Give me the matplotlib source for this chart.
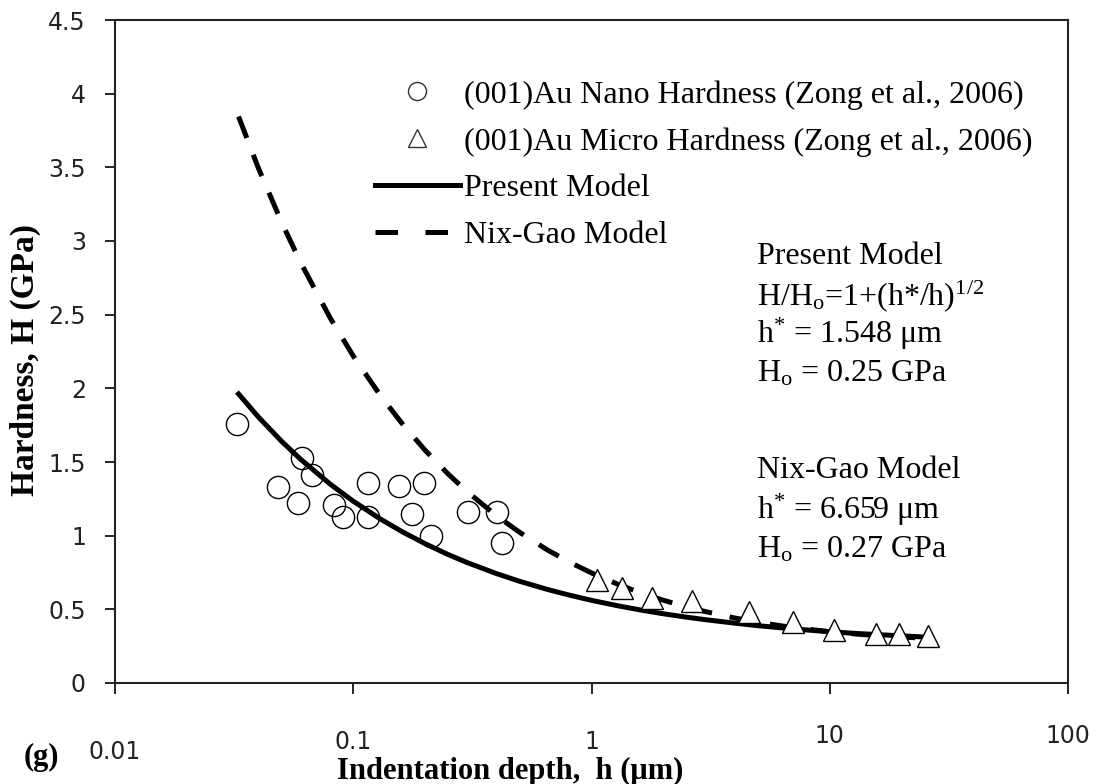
import matplotlib
matplotlib.use("Agg")
import matplotlib.pyplot as plt
from matplotlib.lines import Line2D
from matplotlib.transforms import blended_transform_factory

plt.rcParams['mathtext.fontset'] = 'custom'
plt.rcParams['mathtext.rm'] = 'Liberation Serif'
plt.rcParams['mathtext.it'] = 'Liberation Serif:italic'

# ---- data ----
nano_h = [0.0326, 0.0484, 0.0587, 0.0607, 0.0673, 0.0833, 0.0906, 0.1154, 0.1154,
          0.1555, 0.177, 0.198, 0.213, 0.303, 0.403, 0.42]
nano_H = [1.76, 1.33, 1.22, 1.53, 1.41, 1.21, 1.13, 1.36, 1.13,
          1.34, 1.15, 1.36, 1.00, 1.16, 1.16, 0.95]

micro_h = [1.05, 1.34, 1.79, 2.64, 4.6, 6.99, 10.4, 15.6, 19.6, 25.8]
micro_H = [0.70, 0.645, 0.575, 0.555, 0.48, 0.415, 0.36, 0.33, 0.33, 0.32]

model_h = [0.033, 0.04, 0.05, 0.06, 0.08, 0.1, 0.13, 0.16, 0.2, 0.25, 0.3, 0.4, 0.5,
           0.65, 0.8, 1.0, 1.3, 1.6, 2, 2.5, 3, 4, 5, 6.5, 8, 10, 13, 16, 20, 25]
present_H = [1.962, 1.805, 1.641, 1.520, 1.350, 1.234, 1.113, 1.028, 0.946, 0.872,
             0.818, 0.742, 0.690, 0.636, 0.598, 0.561, 0.523, 0.496, 0.470, 0.447,
             0.430, 0.406, 0.389, 0.372, 0.360, 0.348, 0.336, 0.328, 0.320, 0.312]
nixgao_H = [3.845, 3.494, 3.128, 2.857, 2.478, 2.220, 1.951, 1.763, 1.581, 1.419,
            1.300, 1.134, 1.022, 0.905, 0.824, 0.747, 0.668, 0.613, 0.562, 0.517,
            0.485, 0.441, 0.412, 0.384, 0.366, 0.348, 0.332, 0.321, 0.312, 0.304]

xticks = [0.01, 0.1, 1, 10, 100]
xtick_labels = ['0.01', '0.1', '1', '10', '100']
yticks = [0, 0.5, 1, 1.5, 2, 2.5, 3, 3.5, 4, 4.5]
ytick_labels = ['0', '0.5', '1', '1.5', '2', '2.5', '3', '3.5', '4', '4.5']

legend_labels = ['(001)Au Nano Hardness (Zong et al., 2006)',
                 '(001)Au Micro Hardness (Zong et al., 2006)',
                 'Present Model', 'Nix-Gao Model']

W, H = 1100, 784
fig = plt.figure(figsize=(W / 100, H / 100), dpi=100)
ax = fig.add_axes([115 / W, 1 - 683 / H, (1068 - 115) / W, (683 - 20) / H])

serif = 'Liberation Serif'
tick_font = 'DejaVu Sans'

ax.plot(model_h, nixgao_H, color='black', lw=3.6, linestyle=(0, (4.6, 3.6)),
        solid_capstyle='butt', dash_capstyle='butt', zorder=2)
ax.plot(model_h, present_H, color='black', lw=3.6, zorder=2)
ax.plot(nano_h, nano_H, linestyle='none', marker='o', markersize=16,
        markerfacecolor='none', markeredgecolor='black', markeredgewidth=1.0, zorder=3)
ax.plot(micro_h, micro_H, linestyle='none', marker='^', markersize=16,
        markerfacecolor='white', markeredgecolor='black', markeredgewidth=1.0, zorder=3)

ax.set_xscale('log')
ax.set_xlim(0.01, 100)
ax.set_ylim(0, 4.5)
ax.set_xticks(xticks)
ax.set_xticklabels([])
ax.minorticks_off()
ax.set_yticks(yticks)
ax.set_yticklabels(ytick_labels, fontfamily=tick_font, fontsize=17, color='#222222')
ax.tick_params(axis='y', direction='out', length=7, width=1.2, pad=14)
ax.tick_params(axis='x', direction='out', length=8, width=1.2)
for s in ax.spines.values():
    s.set_linewidth(1.5)
    s.set_color('#222222')

# x tick labels (placed individually, as in the reference)
tr = blended_transform_factory(ax.transData, fig.transFigure)
label_y = [752, 742, 742, 736, 736]
for v, t, yp in zip(xticks, xtick_labels, label_y):
    ax.text(v, 1 - yp / H, t, transform=tr, ha='center', va='center',
            fontfamily=tick_font, fontsize=17, color='#222222', clip_on=False)

# axis titles
fig.text(510 / W, 1 - 771 / H, 'Indentation depth,  h (\u03bcm)', ha='center', va='center',
         fontfamily=serif, fontweight='bold', fontsize=22)
fig.text(25 / W, 1 - 360 / H, 'Hardness, H (GPa)', ha='center', va='center',
         rotation=90, fontfamily=serif, fontweight='bold', fontsize=24)
fig.text(41 / W, 1 - 757 / H, '(g)', ha='center', va='center',
         fontfamily=serif, fontweight='bold', fontsize=22)

# legend
handles = [
    Line2D([], [], linestyle='none', marker='o', markersize=13,
           markerfacecolor='none', markeredgecolor='#333333', markeredgewidth=1.0),
    Line2D([], [], linestyle='none', marker='^', markersize=13,
           markerfacecolor='none', markeredgecolor='#333333', markeredgewidth=1.0),
    Line2D([], [], color='black', lw=3.6),
    Line2D([], [], color='black', lw=3.6, linestyle=(0, (4.5, 5.5))),
]
leg = ax.legend(handles, legend_labels, loc='upper left',
                bbox_to_anchor=(375 / W, 1 - 80 / H), bbox_transform=fig.transFigure,
                frameon=False, prop={'family': serif, 'size': 23},
                handlelength=2.65, handletextpad=0.15, labelspacing=0.55,
                borderpad=0, borderaxespad=0)

# model annotations
ann = [
    (257, 'Present Model'),
    (296, 'H/H$_\\mathrm{o}$=1+(h*/h)$^\\mathrm{1/2}$'),
    (334, 'h$^\\mathrm{*}$ = 1.548 \u03bcm'),
    (374, 'H$_\\mathrm{o}$ = 0.25 GPa'),
    (470, 'Nix-Gao Model'),
    (510, 'h$^\\mathrm{*}$ = 6.659 \u03bcm'),
    (550, 'H$_\\mathrm{o}$ = 0.27 GPa'),
]
for yp, t in ann:
    fig.text(757 / W, 1 - yp / H, t, ha='left', va='center',
             fontfamily=serif, fontsize=23)

fig.savefig('out.png', dpi=100)
